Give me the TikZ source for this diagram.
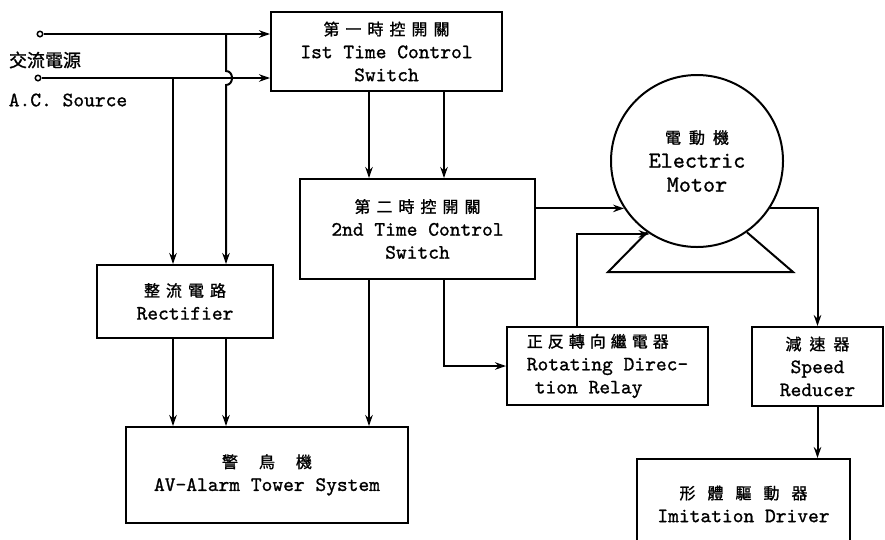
\documentclass[tikz,border=0pt]{standalone}
\usepackage{fontspec}
\usetikzlibrary{arrows.meta,calc}
\newfontfamily\tw[FakeBold=1]{lmmono10-regular.otf}
\newfontfamily\cjk[FakeBold=1.2]{Noto Sans CJK TC}
\newcommand\cg[1][6pt]{\hspace{#1}}
\newcommand\cjs{\cjk\fontsize{16}{22}\selectfont}
\begin{document}
\begin{tikzpicture}[x=1pt,y=-1pt, line width=2pt,
  box/.style={draw, rectangle, inner sep=2pt, align=center, font=\tw\fontsize{20.5}{23}\selectfont},
  arr/.style={-{Stealth[length=11pt,width=7.5pt]}},
  term/.style={circle, draw, line width=1.5pt, inner sep=0pt, minimum size=5.5pt, fill=white}]
\useasboundingbox (0,0) rectangle (885,539);
\clip (0,0) rectangle (885,539);
% boxes
\node[box, minimum width=231pt, minimum height=79pt] (b1) at (386.5,51.5)
  {{\cjs 第\cg{}一\cg{}時\cg{}控\cg{}開\cg{}關}\\Ist Time Control\\Switch};
\node[box, minimum width=235pt, minimum height=100pt] (b2) at (417.5,229)
  {{\cjs 第\cg{}二\cg{}時\cg{}控\cg{}開\cg{}關}\\2nd Time Control\\Switch};
\node[box, minimum width=176pt, minimum height=73pt] (rec) at (185,301.5)
  {{\cjs 整\cg{}流\cg{}電\cg{}路}\\Rectifier};
\node[box, minimum width=282pt, minimum height=96pt] (al) at (267,475)
  {{\cjs 警\cg[21pt]{}鳥\cg[21pt]{}機}\\AV-Alarm Tower System};
\node[box, minimum width=201pt, minimum height=78pt, align=left] (rel) at (607.5,366)
  {{\cjs 正\cg[5pt]{}反\cg[5pt]{}轉\cg[5pt]{}向\cg[5pt]{}繼\cg[5pt]{}電\cg[5pt]{}器}\\Rotating Direc-\\\hspace{8pt}tion Relay};
\node[box, minimum width=131pt, minimum height=79pt] (red) at (817.5,366.5)
  {{\cjs 減\cg[8pt]{}速\cg[8pt]{}器}\\Speed\\Reducer};
\node[box, minimum width=213pt, minimum height=90pt] (drv) at (743.5,504)
  {{\cjs 形\cg[12pt]{}體\cg[12pt]{}驅\cg[12pt]{}動\cg[12pt]{}器}\\Imitation Driver};
\node[draw, circle, minimum size=172pt, inner sep=0pt, align=center,
  font=\tw\fontsize{23}{24}\selectfont] (mo) at (697,161)
  {{\cjs 電\cg[8pt]{}動\cg[8pt]{}機}\\Electric\\Motor};
% source labels
\node[font=\cjk\fontsize{18}{18}\selectfont] (lab1) at (45,60) {交流電源};
\node[font=\tw\fontsize{20.5}{20}\selectfont] (lab2) at (68,100) {A.C. Source};
% terminals
\node[term] (t1) at (40,34) {};
\node[term] (t2) at (38,78) {};
\coordinate (xa) at (369,0);
\coordinate (xb) at (444,0);
\coordinate (xc) at (173,0);
\coordinate (xd) at (226,0);
\coordinate (j1) at (226,34);
\coordinate (j2) at (173,78);
% connectors
\draw[arr] (t1.east) -- (t1.east -| b1.west);
\draw[arr] (t2.east) -- (t2.east -| b1.west);
\draw[arr] (j1) -- (226,71) .. controls (234,71) and (234,85) .. (226,85) -- (j1 |- rec.north);
\draw[arr] (j2) -- (j2 |- rec.north);
\draw[arr] (b1.south -| xa) -- (b2.north -| xa);
\draw[arr] (b1.south -| xb) -- (b2.north -| xb);
\draw[arr] (rec.south -| xc) -- (al.north -| xc);
\draw[arr] (rec.south -| xd) -- (al.north -| xd);
\draw[arr] (b2.south -| xa) -- (al.north -| xa);
\draw[arr] (b2.south -| xb) |- (rel.west);
\draw[arr] (b2.east |- mo.213) -- (mo.213);
\draw[arr] ($(rel.north west)!0.35!(rel.north east)$) |- (mo.237);
\draw[arr] (mo.327) -| (red.north);
\draw[arr] (red.south) -- (red.south |- drv.north);
% motor base
\draw (mo.235) -- (608,272) -- (793,272) -- (mo.305);
\end{tikzpicture}
\end{document}
